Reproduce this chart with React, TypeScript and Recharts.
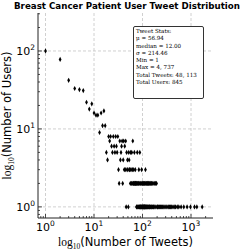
import React from 'react';
import { ScatterChart, Scatter, XAxis, YAxis, CartesianGrid, Label } from 'recharts';

const tweetCounts = [
  1, 2, 3, 4, 5, 6, 7, 8, 9, 10, 11, 12, 13, 14, 15, 16, 17, 18, 19, 20,
  21, 22, 23, 24, 25, 26, 27, 28, 29, 30, 31, 32, 33, 34, 35, 36, 37, 38, 39, 40,
  41, 42, 43, 44, 45, 46, 47, 48, 49, 50, 51, 52, 53, 54, 55, 56, 57, 58, 59, 60,
  61, 62, 63, 64, 65, 66, 67, 68, 69, 70, 71, 72, 73, 74, 75, 76, 77, 78, 79, 80,
  81, 82, 83, 84, 85, 86, 87, 88, 89, 90, 91, 92, 93, 94, 95, 96, 97, 98, 99, 100,
  101, 102, 103, 104, 105, 106, 107, 108, 109, 110, 111, 112, 113, 114, 115, 116, 117, 118, 120, 121,
  123, 124, 126, 127, 129, 131, 133, 134, 136, 138, 140, 142, 143, 146, 148, 151, 153, 156, 158, 161,
  165, 168, 172, 175, 180, 185, 189, 195, 200, 205, 215, 225, 236, 248, 260, 275, 290, 305, 320, 340,
  360, 380, 400, 425, 450, 480, 520, 560, 625, 710, 830, 975, 1180, 1320, 1700,
];

const userCounts = [
  100, 78, 42, 33, 32, 31, 22, 18, 21, 16, 15, 15, 9, 16, 11, 17, 11, 5, 4, 8,
  7, 8, 6, 5, 8, 6, 5, 8, 6, 5, 8, 3, 2, 7, 4, 5, 6, 7, 2, 4,
  7, 3, 6, 3, 7, 1, 5, 3, 4, 3, 1, 5, 4, 3, 3, 2, 5, 3, 2, 5,
  2, 3, 7, 2, 2, 3, 2, 5, 2, 2, 3, 2, 2, 2, 1, 2, 1, 5, 2, 1,
  2, 1, 2, 3, 1, 2, 1, 5, 1, 2, 1, 1, 2, 1, 1, 3, 2, 1, 2, 1,
  1, 2, 1, 2, 1, 1, 2, 1, 1, 2, 1, 1, 2, 1, 3, 1, 2, 1, 1, 2,
  1, 2, 1, 2, 1, 2, 1, 2, 1, 2, 1, 1, 2, 1, 2, 1, 2, 1, 2, 1,
  2, 1, 1, 2, 1, 2, 1, 2, 1, 1, 1, 1, 1, 1, 1, 1, 1, 1, 1, 1,
  1, 1, 1, 1, 1, 1, 1, 1, 1, 1, 1, 1, 1, 1, 1,
];

const majorX = [1, 10, 100, 1000];
const minorX = [0.8, 0.9, 2, 3, 4, 5, 6, 7, 8, 9, 20, 30, 40, 50, 60, 70, 80, 90, 200, 300, 400, 500, 600, 700, 800, 900, 2000];
const majorY = [1, 10, 100];
const minorY = [0.8, 0.9, 2, 3, 4, 5, 6, 7, 8, 9, 20, 30, 40, 50, 60, 70, 80, 90, 200, 300];

const xTicks = [...majorX, ...minorX].sort((a, b) => a - b);
const yTicks = [...majorY, ...minorY].sort((a, b) => a - b);

const titleText = 'Breast Cancer Patient User Tweet Distribution';
const xLabelText = '(Number of Tweets)';
const yLabelText = '(Number of Users)';
const statsLines = [
  'Tweet Stats:',
  'μ = 56.94',
  'median = 12.00',
  'σ = 214.46',
  'Min = 1',
  'Max = 4, 737',
  'Total Tweets: 48, 113',
  'Total Users: 845',
];

const points = tweetCounts.map((t, i) => ({ tweets: t, users: userCounts[i] }));

const SANS = 'DejaVu Sans, sans-serif';
const SERIF = 'Liberation Serif, DejaVu Serif, serif';
const AXIS = '#222';

const expOf = (v: number) => Math.round(Math.log10(v));

const BottomTick = (props: any) => {
  const { x, y, payload } = props;
  const v = payload.value;
  const major = majorX.includes(v);
  return (
    <g>
      <line x1={x} x2={x} y1={y} y2={y - (major ? 4 : 2)} stroke={AXIS} strokeWidth={0.8} />
      {major && (
        <text x={x} y={y + 13} textAnchor="middle" fontFamily={SANS} fontSize={11} fill="#000">
          10<tspan dy={-5} fontSize={7.5}>{expOf(v)}</tspan>
        </text>
      )}
    </g>
  );
};

const TopTick = (props: any) => {
  const { x, y, payload } = props;
  const major = majorX.includes(payload.value);
  return <line x1={x} x2={x} y1={y} y2={y + (major ? 4 : 2)} stroke={AXIS} strokeWidth={0.8} />;
};

const LeftTick = (props: any) => {
  const { x, y, payload } = props;
  const v = payload.value;
  const major = majorY.includes(v);
  return (
    <g>
      <line x1={x} x2={x + (major ? 4 : 2)} y1={y} y2={y} stroke={AXIS} strokeWidth={0.8} />
      {major && (
        <text x={x - 3} y={y + 4} textAnchor="end" fontFamily={SANS} fontSize={11} fill="#000">
          10<tspan dy={-5} fontSize={7.5}>{expOf(v)}</tspan>
        </text>
      )}
    </g>
  );
};

const RightTick = (props: any) => {
  const { x, y, payload } = props;
  const major = majorY.includes(payload.value);
  return <line x1={x} x2={x - (major ? 4 : 2)} y1={y} y2={y} stroke={AXIS} strokeWidth={0.8} />;
};

const ThinDiamond = (props: any) => {
  const { cx, cy } = props;
  if (cx == null || cy == null) return <g />;
  return (
    <polygon
      points={`${cx},${cy - 2.6} ${cx + 1.4},${cy} ${cx},${cy + 2.6} ${cx - 1.4},${cy}`}
      fill="#000"
    />
  );
};

const XLabel = (props: any) => {
  const vb = props.viewBox || {};
  const cx = vb.x + vb.width / 2;
  return (
    <text x={cx} y={vb.y + 28} textAnchor="middle" fontSize={11.5} fill="#000">
      <tspan fontFamily={SERIF}>log</tspan>
      <tspan fontFamily={SERIF} fontSize={7.5} dy={3}>10</tspan>
      <tspan fontFamily={SANS} dy={-3}>{xLabelText}</tspan>
    </text>
  );
};

const YLabel = (props: any) => {
  const vb = props.viewBox || {};
  const cy = vb.y + vb.height / 2;
  const lx = 11;
  return (
    <text x={lx} y={cy} textAnchor="middle" fontSize={11.5} fill="#000" transform={`rotate(-90, ${lx}, ${cy})`}>
      <tspan fontFamily={SERIF}>log</tspan>
      <tspan fontFamily={SERIF} fontSize={7.5} dy={3}>10</tspan>
      <tspan fontFamily={SANS} dy={-3}>{yLabelText}</tspan>
    </text>
  );
};

export default function App() {
  return (
    <div style={{ position: 'absolute', left: 0, top: 0, width: 250, height: 250, background: '#fff' }}>
      <ScatterChart width={250} height={250} margin={{ top: 13, right: 37, bottom: 0, left: 0 }}>
        <CartesianGrid
          strokeDasharray="3 2"
          stroke="#c4c4c4"
          strokeWidth={0.8}
          verticalValues={majorX}
          horizontalValues={majorY}
        />
        <XAxis
          type="number"
          dataKey="tweets"
          scale="log"
          domain={[0.7, 2840]}
          allowDataOverflow
          ticks={xTicks}
          interval={0}
          tickSize={0}
          tickMargin={0}
          tickLine={false}
          tick={<BottomTick />}
          height={32}
          stroke={AXIS}
        >
          <Label content={<XLabel />} />
        </XAxis>
        <XAxis
          xAxisId="top"
          orientation="top"
          type="number"
          dataKey="tweets"
          scale="log"
          domain={[0.7, 2840]}
          allowDataOverflow
          ticks={xTicks}
          interval={0}
          tickSize={0}
          tickMargin={0}
          tickLine={false}
          tick={<TopTick />}
          height={0}
          stroke={AXIS}
        />
        <YAxis
          type="number"
          dataKey="users"
          scale="log"
          domain={[0.72, 307]}
          allowDataOverflow
          ticks={yTicks}
          interval={0}
          tickSize={0}
          tickMargin={0}
          tickLine={false}
          tick={<LeftTick />}
          width={38}
          stroke={AXIS}
        >
          <Label content={<YLabel />} />
        </YAxis>
        <YAxis
          yAxisId="right"
          orientation="right"
          type="number"
          dataKey="users"
          scale="log"
          domain={[0.72, 307]}
          allowDataOverflow
          ticks={yTicks}
          interval={0}
          tickSize={0}
          tickMargin={0}
          tickLine={false}
          tick={<RightTick />}
          width={0}
          stroke={AXIS}
        />
        <Scatter data={points} dataKey="users" isAnimationActive={false} shape={<ThinDiamond />} />
      </ScatterChart>
      <div
        style={{
          position: 'absolute',
          left: 0,
          top: 1,
          width: 254,
          textAlign: 'center',
          fontFamily: SANS,
          fontWeight: 'bold',
          fontSize: 8.7,
          lineHeight: '11px',
          color: '#000',
          whiteSpace: 'nowrap',
        }}
      >
        {titleText}
      </div>
      <div
        style={{
          position: 'absolute',
          left: 133,
          top: 26,
          width: 67,
          height: 70,
          border: '1px solid #333',
          borderRadius: 2,
          background: '#fff',
          boxSizing: 'content-box',
          fontFamily: 'DejaVu Serif, serif',
          fontSize: 5.6,
          lineHeight: '7.3px',
          color: '#000',
          paddingLeft: 2,
          paddingTop: 1,
          whiteSpace: 'nowrap',
        }}
      >
        {statsLines.map((s, i) => (
          <div key={i}>{s}</div>
        ))}
      </div>
    </div>
  );
}
